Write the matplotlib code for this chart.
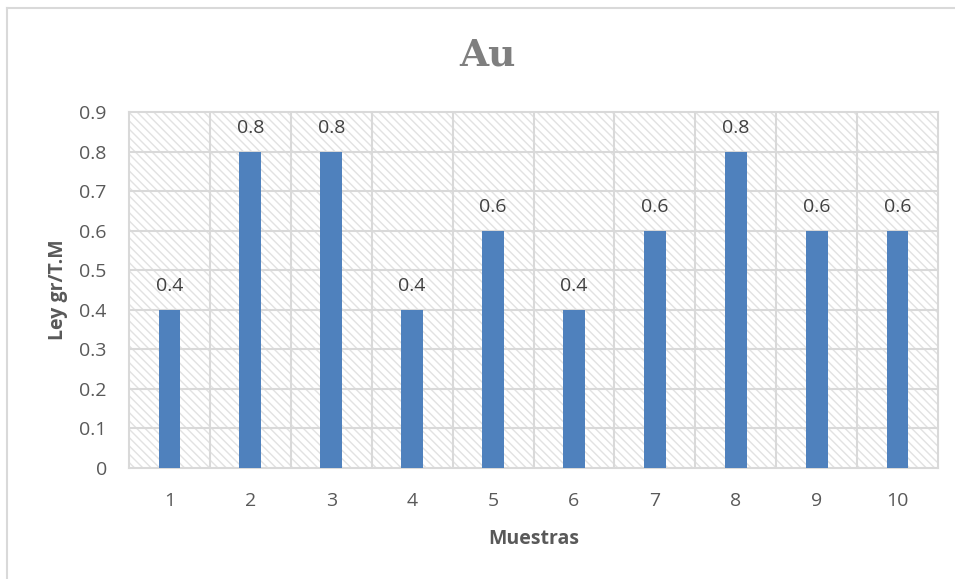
import numpy as np
import matplotlib.pyplot as plt
from matplotlib.patches import Rectangle
from matplotlib.lines import Line2D

# sample numbers and gold grade (gr/T.M)
muestras = ['1', '2', '3', '4', '5', '6', '7', '8', '9', '10']
ley = [0.4, 0.8, 0.8, 0.4, 0.6, 0.4, 0.6, 0.8, 0.6, 0.6]

plt.rcParams['font.family'] = ['Open Sans', 'DejaVu Sans']
plt.rcParams['hatch.linewidth'] = 1.0

fig = plt.figure(figsize=(9.55, 5.79), dpi=100)
ax = fig.add_axes([129 / 955, 1 - 468 / 579, 809 / 955, 356 / 579])

grid = '#d9d9d9'
text_col = '#595959'

# hatched plot background
ax.add_patch(Rectangle((0, 0), 1, 1, transform=ax.transAxes, facecolor='white',
                       edgecolor='#e2e2e2', hatch='\\\\\\\\', linewidth=0, zorder=0))

x = np.arange(len(muestras))
bars = ax.bar(x, ley, width=0.27, color='#4f81bd', zorder=3)

for xi, v in zip(x, ley):
    ax.text(xi, v + 0.037, f'{v:g}', ha='center', va='bottom',
            fontsize=14, color='#404040', zorder=4)

ax.set_xlim(-0.5, len(muestras) - 0.5)
ax.set_ylim(0, 0.9)
ax.set_yticks(np.arange(0, 0.91, 0.1))
ax.set_yticklabels(['0'] + [f'{t:.1f}' for t in np.arange(0.1, 0.91, 0.1)])
ax.set_xticks(x)
ax.set_xticklabels(muestras)

# horizontal grid at ticks, vertical grid between categories
for y in np.arange(0.1, 0.9, 0.1):
    ax.axhline(y, color=grid, linewidth=1.5, zorder=1)
for b in np.arange(0.5, len(muestras) - 1, 1):
    ax.axvline(b, color=grid, linewidth=1.5, zorder=1)

for s in ax.spines.values():
    s.set_color(grid)
    s.set_linewidth(1.5)

ax.tick_params(length=0, labelsize=14, labelcolor=text_col)
ax.tick_params(axis='x', pad=17)
ax.tick_params(axis='y', pad=16)

ax.set_xlabel('Muestras', fontsize=14, fontweight='bold', color=text_col, labelpad=14)
ax.set_ylabel('Ley gr/T.M', fontsize=14, fontweight='bold', color=text_col, labelpad=8)

fig.text(487 / 955, 1 - 55 / 579, 'Au', ha='center', va='center',
         fontsize=27, fontweight='bold', color='#7f7f7f', family='DejaVu Serif')

# chart frame (left and top edges)
fig.add_artist(Line2D([7 / 955, 7 / 955], [0, 1 - 7.5 / 579], transform=fig.transFigure,
                      color=grid, linewidth=1.5))
fig.add_artist(Line2D([7 / 955, 1], [1 - 7.5 / 579, 1 - 7.5 / 579], transform=fig.transFigure,
                      color=grid, linewidth=1.5))

fig.savefig('out.png', dpi=100)
